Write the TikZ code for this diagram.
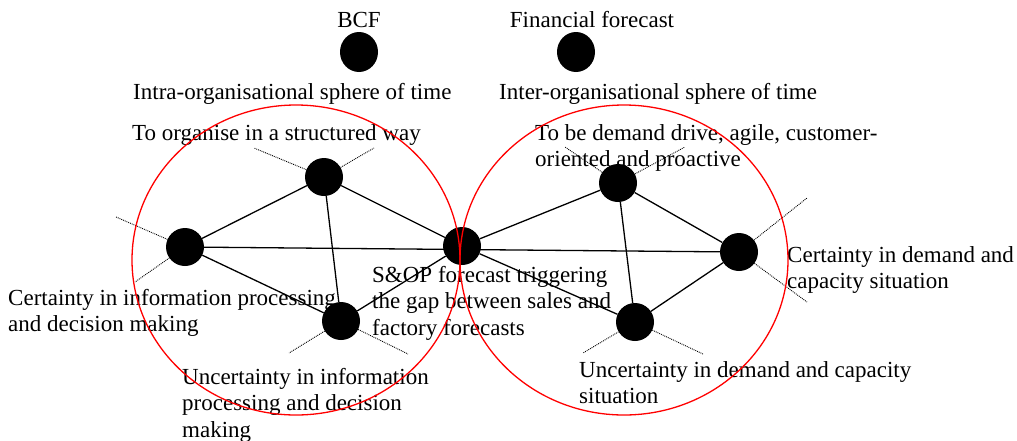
\documentclass[tikz,border=0pt]{standalone}
\usepackage{fontspec}
\setmainfont{Liberation Serif}
\usetikzlibrary{shapes.geometric}
\begin{document}
\begin{tikzpicture}[x=1pt,y=-1pt,
  dot/.style={circle,fill=black,minimum size=38pt,inner sep=0pt},
  topdot/.style={ellipse,fill=black,minimum width=38pt,minimum height=40pt,inner sep=0pt},
  lbl/.style={font=\fontsize{23}{26.5}\selectfont,align=left,inner sep=0pt,anchor=north west},
  ctr/.style={font=\fontsize{23}{26.5}\selectfont,inner sep=0pt},
  edgeline/.style={line width=1.3pt},
  ray/.style={densely dotted,line width=0.9pt},
  sphere/.style={ellipse,draw=red,line width=1.3pt,minimum width=328pt,minimum height=310pt,inner sep=0pt}]
\useasboundingbox (0,0) rectangle (1017,440);

% top items
\node[ctr] (bcf) at (359,20) {BCF};
\node[ctr] (fin) at (592,20) {Financial forecast};
\node[topdot] (bcfdot) at (359,52) {};
\node[topdot] (findot) at (576,52) {};
\node[lbl] (intra) at (133,83) {Intra-organisational sphere of time};
\node[lbl] (inter) at (499,83) {Inter-organisational sphere of time};

% graph nodes
\node[dot] (L) at (185,247) {};
\node[dot] (T) at (324,177) {};
\node[dot] (BL) at (341,321) {};
\node[dot] (C) at (462,246) {};
\node[dot] (RT) at (618,183) {};
\node[dot] (R) at (739,252) {};
\node[dot] (BR) at (635,322) {};

% ray end points
\coordinate (Ta) at (254,148);
\coordinate (Tb) at (374,148);
\coordinate (La) at (116,217);
\coordinate (Lb) at (135,282);
\coordinate (BLa) at (289,353);
\coordinate (BLb) at (408,354);
\coordinate (RTa) at (565,147);
\coordinate (RTb) at (685,147);
\coordinate (Ra) at (807,198);
\coordinate (Rb) at (807,302);
\coordinate (BRa) at (583,353);
\coordinate (BRb) at (703,354);

% solid edges
\draw[edgeline] (L) -- (T);
\draw[edgeline] (L) -- (R);
\draw[edgeline] (L) -- (BL);
\draw[edgeline] (T) -- (BL);
\draw[edgeline] (T) -- (C);
\draw[edgeline] (BL) -- (C);
\draw[edgeline] (C) -- (RT);
\draw[edgeline] (C) -- (BR);
\draw[edgeline] (RT) -- (R);
\draw[edgeline] (RT) -- (BR);
\draw[edgeline] (BR) -- (R);

% dotted rays
\foreach \n in {T,L,BL,RT,R,BR}{
  \draw[ray] (\n) -- (\n a);
  \draw[ray] (\n) -- (\n b);
}

% labels
\node[lbl] (tL) at (132,124) {To organise in a structured way};
\node[lbl] (tR) at (535,124) {To be demand drive, agile, customer-\\oriented and proactive};
\node[lbl] (cL) at (8,289) {Certainty in information processing\\and decision making};
\node[lbl] (uL) at (182,368) {Uncertainty in information\\processing and decision\\making};
\node[lbl] (sop) at (372,266) {S\&OP forecast triggering\\the gap between sales and\\factory forecasts};
\node[lbl] (cR) at (787,246) {Certainty in demand and\\capacity situation};
\node[lbl] (uR) at (579,361) {Uncertainty in demand and capacity\\situation};

% spheres
\node[sphere] (sphL) at (296,260) {};
\node[sphere] (sphR) at (624,260) {};
\end{tikzpicture}
\end{document}
